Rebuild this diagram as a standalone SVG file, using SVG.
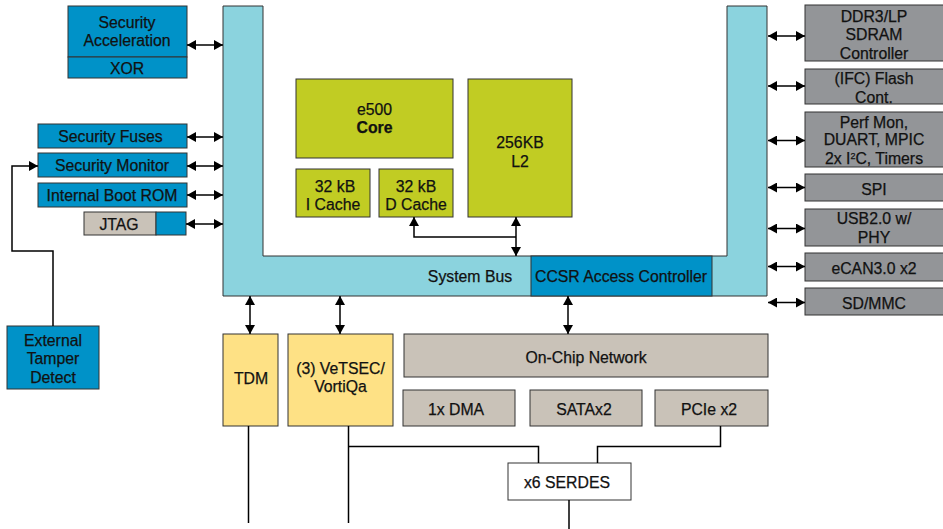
<svg xmlns="http://www.w3.org/2000/svg" width="943" height="529" viewBox="0 0 943 529">
<defs>
<marker id="ah" viewBox="0 0 9 10" refX="9" refY="5" markerWidth="9" markerHeight="10" markerUnits="userSpaceOnUse" orient="auto-start-reverse">
<path d="M0,0 L9,5 L0,10 z" fill="#000"/>
</marker>
<style>
text{font-family:"Liberation Sans",Arial,sans-serif;font-size:15.8px;fill:#111;stroke:#111;stroke-width:0.25;text-anchor:middle}
.b{stroke:#333;stroke-width:1}
.lb{fill:#8bd3de}
.bl{fill:#0092c8}
.ol{fill:#c1cc23}
.ye{fill:#fee185}
.bg{fill:#c9c2b8}
.gr{fill:#939598}
.wh{fill:#fff}
.c{fill:none;stroke:#000;stroke-width:1.5}
.bi{marker-start:url(#ah);marker-end:url(#ah)}
</style>
</defs>
<rect width="943" height="529" fill="#fff"/>

<g id="bus">
<path class="b lb" d="M223,6 H263 V256 H727 V6 H767 V296 H223 Z"/>
<text x="470" y="281.5">System Bus</text>
</g>
<g id="ccsr">
<rect class="b bl" x="531" y="256" width="181" height="40"/>
<text x="621" y="281.5">CCSR Access Controller</text>
</g>

<g id="sec-accel">
<rect class="b bl" x="68" y="6" width="119" height="51"/>
<text x="127" y="27.5">Security</text>
<text x="127" y="45.5">Acceleration</text>
</g>
<g id="xor">
<rect class="b bl" x="68" y="57" width="119" height="21"/>
<text x="127" y="73.5">XOR</text>
</g>
<g id="sec-fuses">
<rect class="b bl" x="38" y="124" width="149" height="24"/>
<text x="110.5" y="142">Security Fuses</text>
</g>
<g id="sec-monitor">
<rect class="b bl" x="38" y="153" width="149" height="24"/>
<text x="112" y="171">Security Monitor</text>
</g>
<g id="boot-rom">
<rect class="b bl" x="38" y="183" width="149" height="24"/>
<text x="112" y="201">Internal Boot ROM</text>
</g>
<g id="jtag">
<rect class="b bg" x="84" y="212" width="72" height="23"/>
<rect class="b bl" x="156" y="212" width="30" height="23"/>
<text x="119" y="229.5">JTAG</text>
</g>
<g id="tamper">
<rect class="b bl" x="7" y="326" width="92" height="63"/>
<text x="53" y="346">External</text>
<text x="53" y="364">Tamper</text>
<text x="53" y="382.5">Detect</text>
</g>

<g id="core">
<rect class="b ol" x="296" y="79" width="157" height="79"/>
<text x="374.5" y="115">e500</text>
<text x="374.5" y="132.5" font-weight="bold">Core</text>
</g>
<g id="icache">
<rect class="b ol" x="296" y="169" width="74" height="48"/>
<text x="335" y="191.5">32 kB</text>
<text x="333" y="210">I Cache</text>
</g>
<g id="dcache">
<rect class="b ol" x="379" y="169" width="74" height="48"/>
<text x="416" y="191.5">32 kB</text>
<text x="416" y="210">D Cache</text>
</g>
<g id="l2">
<rect class="b ol" x="468" y="79" width="104" height="138"/>
<text x="520" y="147.5">256KB</text>
<text x="520" y="166.5">L2</text>
</g>

<g id="ddr">
<rect class="b gr" x="805" y="5" width="140" height="56"/>
<text x="874" y="22">DDR3/LP</text>
<text x="874" y="40">SDRAM</text>
<text x="874" y="58.5">Controller</text>
</g>
<g id="ifc">
<rect class="b gr" x="805" y="69" width="140" height="35"/>
<text x="874" y="83.5">(IFC) Flash</text>
<text x="874" y="102.5">Cont.</text>
</g>
<g id="perf">
<rect class="b gr" x="805" y="112" width="140" height="55"/>
<text x="874" y="127.5">Perf Mon,</text>
<text x="874" y="144.5">DUART, MPIC</text>
<text x="874" y="163.5">2x I<tspan font-size="9" dy="-5">2</tspan><tspan dy="5">C, Timers</tspan></text>
</g>
<g id="spi">
<rect class="b gr" x="805" y="174" width="140" height="27"/>
<text x="874" y="194.5">SPI</text>
</g>
<g id="usb">
<rect class="b gr" x="805" y="209" width="140" height="37"/>
<text x="874" y="224">USB2.0 w/</text>
<text x="874" y="243">PHY</text>
</g>
<g id="ecan">
<rect class="b gr" x="805" y="253" width="140" height="28"/>
<text x="874" y="274">eCAN3.0 x2</text>
</g>
<g id="sdmmc">
<rect class="b gr" x="805" y="288" width="140" height="27"/>
<text x="874" y="308.5">SD/MMC</text>
</g>

<g id="tdm">
<rect class="b ye" x="223" y="334" width="55" height="92"/>
<text x="251" y="383.5">TDM</text>
</g>
<g id="vetsec">
<rect class="b ye" x="288" y="334" width="105" height="92"/>
<text x="340.5" y="374">(3) VeTSEC/</text>
<text x="340.5" y="392">VortiQa</text>
</g>
<g id="ocn">
<rect class="b bg" x="404" y="334" width="364" height="43"/>
<text x="586" y="362.5">On-Chip Network</text>
</g>
<g id="dma">
<rect class="b bg" x="403" y="390" width="112" height="36"/>
<text x="456" y="414.5">1x DMA</text>
</g>
<g id="sata">
<rect class="b bg" x="530" y="390" width="112" height="36"/>
<text x="584" y="414.5">SATAx2</text>
</g>
<g id="pcie">
<rect class="b bg" x="655" y="390" width="113" height="36"/>
<text x="709" y="414.5">PCIe x2</text>
</g>
<g id="serdes">
<rect class="b wh" x="508" y="463" width="123" height="37"/>
<text x="567" y="487.5">x6 SERDES</text>
</g>

<g id="connectors">
<line class="c bi" x1="187" y1="45" x2="223" y2="45"/>
<line class="c bi" x1="187" y1="137" x2="223" y2="137"/>
<line class="c bi" x1="187" y1="166" x2="223" y2="166"/>
<line class="c bi" x1="187" y1="195" x2="223" y2="195"/>
<line class="c bi" x1="186" y1="224" x2="223" y2="224"/>
<path class="c" d="M53,326 V251 H12 V166 H38" marker-end="url(#ah)"/>

<line class="c bi" x1="768" y1="36" x2="805" y2="36"/>
<line class="c bi" x1="768" y1="86" x2="805" y2="86"/>
<line class="c bi" x1="768" y1="140.5" x2="805" y2="140.5"/>
<line class="c bi" x1="768" y1="187.5" x2="805" y2="187.5"/>
<line class="c bi" x1="768" y1="228.5" x2="805" y2="228.5"/>
<line class="c bi" x1="768" y1="266.5" x2="805" y2="266.5"/>
<line class="c bi" x1="768" y1="302.5" x2="805" y2="302.5"/>

<path class="c" d="M414,217 V237 H516" marker-start="url(#ah)"/>
<line class="c bi" x1="516" y1="217" x2="516" y2="256"/>

<line class="c bi" x1="250" y1="296" x2="250" y2="334"/>
<line class="c bi" x1="340" y1="296" x2="340" y2="334"/>
<line class="c bi" x1="568" y1="296" x2="568" y2="334"/>

<line class="c" x1="248.5" y1="426" x2="248.5" y2="523"/>
<line class="c" x1="348.5" y1="426" x2="348.5" y2="523"/>
<path class="c" d="M348.5,446.5 H538.5 V463"/>
<path class="c" d="M720.5,426 V446.5 H597.5 V463"/>
<line class="c" x1="569" y1="500" x2="569" y2="529"/>
</g>
</svg>
